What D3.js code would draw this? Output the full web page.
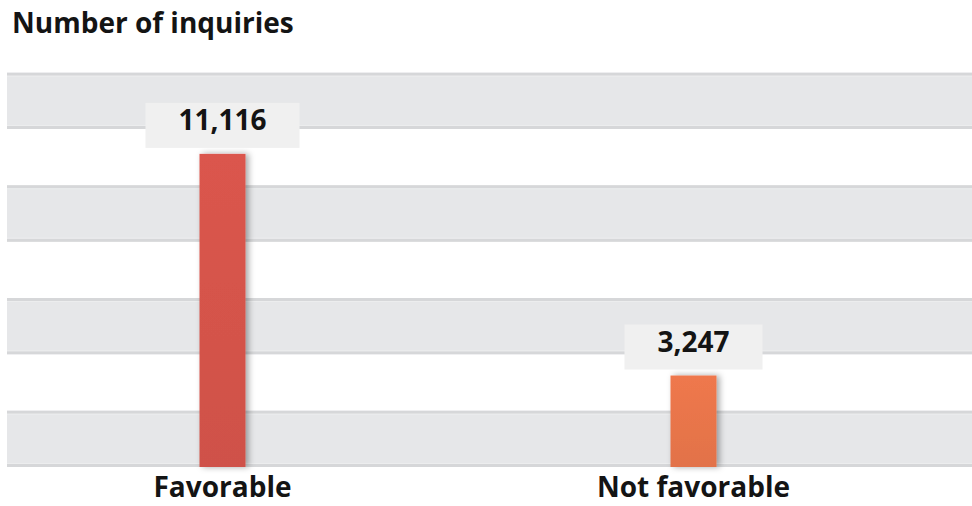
<!DOCTYPE html>
<html>
<head>
<meta charset="utf-8">
<script src="https://cdn.jsdelivr.net/npm/d3@7"></script>
<style>
  html, body { margin: 0; padding: 0; background: #ffffff; }
  svg { display: block; }
  text { font-family: "Open Sans", Lato, sans-serif; font-weight: 700; fill: #141414; }
</style>
</head>
<body>
<svg id="chart" width="972" height="506"></svg>
<script>
// Inquiries by outcome
const categories = ["Favorable", "Not favorable"];
const inquiries = [11116, 3247];
const valueLabels = ["11,116", "3,247"];
const barColors = ["#d3534a", "#e7744a"];
const gridStep = 2000;
const yMax = 14200;
const chartTitle = "Number of inquiries";

const width = 972, height = 506;
const plot = { left: 7, right: 972, top: 67, bottom: 467 };

const svg = d3.select("#chart");

const y = d3.scaleLinear().domain([0, yMax]).range([plot.bottom, plot.top]);
const x = d3.scaleBand().domain(categories).range([-13, 929]).paddingInner(0).paddingOuter(0);
const barWidth = 46;
const cx = d => x(d) + x.bandwidth() / 2;

// defs: bar gradients and soft shadow
const defs = svg.append("defs");
barColors.forEach((c, i) => {
  const g = defs.append("linearGradient")
    .attr("id", "barGrad" + i).attr("x1", 0).attr("y1", 0).attr("x2", 0).attr("y2", 1);
  g.append("stop").attr("offset", "0%").attr("stop-color", d3.color(c).brighter(0.1));
  g.append("stop").attr("offset", "100%").attr("stop-color", d3.color(c).darker(0.06));
});
const shadow = defs.append("filter").attr("id", "barShadow")
  .attr("x", "-50%").attr("y", "-10%").attr("width", "200%").attr("height", "130%");
shadow.append("feDropShadow")
  .attr("dx", 3).attr("dy", 0).attr("stdDeviation", 3)
  .attr("flood-color", "#000").attr("flood-opacity", 0.35);

// alternating horizontal bands from the grid ticks
const ticks = d3.range(0, yMax, gridStep);
const bands = ticks.map((t, i) => ({ lo: t, hi: Math.min(t + gridStep, yMax), i }));
const bandG = svg.append("g");
bands.filter(b => b.i % 2 === 0).forEach(b => {
  const y0 = y(b.hi), y1 = y(b.lo);
  bandG.append("rect")
    .attr("x", plot.left).attr("y", y0)
    .attr("width", plot.right - plot.left).attr("height", y1 - y0)
    .attr("fill", "#e6e7e9");
  [y0 + 1.5, y1 - 1.5].forEach(yy => {
    bandG.append("line")
      .attr("x1", plot.left).attr("x2", plot.right)
      .attr("y1", yy).attr("y2", yy)
      .attr("stroke", "#d6d7d9").attr("stroke-width", 3);
  });
  [y0 + 3.5, y1 - 3.5].forEach(yy => {
    bandG.append("line")
      .attr("x1", plot.left).attr("x2", plot.right)
      .attr("y1", yy).attr("y2", yy)
      .attr("stroke", "#ecedee").attr("stroke-width", 1);
  });
});

// bars
svg.append("g").selectAll("rect")
  .data(categories)
  .join("rect")
  .attr("x", d => cx(d) - barWidth / 2)
  .attr("y", (d, i) => y(inquiries[i]))
  .attr("width", barWidth)
  .attr("height", (d, i) => y(0) - y(inquiries[i]))
  .attr("fill", (d, i) => `url(#barGrad${i})`)
  .attr("filter", "url(#barShadow)");

// value labels in light boxes above the bars
const labelG = svg.append("g");
categories.forEach((d, i) => {
  const top = y(inquiries[i]);
  const g = labelG.append("g");
  const box = g.append("rect").attr("fill", "#f0f0f0");
  const t = g.append("text")
    .attr("x", cx(d)).attr("y", top - 24)
    .attr("text-anchor", "middle")
    .style("font-size", "28px")
    .text(valueLabels[i]);
  const w = t.node().getComputedTextLength() + 66;
  box.attr("x", cx(d) - w / 2).attr("y", top - 51).attr("width", w).attr("height", 45);
});

// category labels
svg.append("g").selectAll("text")
  .data(categories)
  .join("text")
  .attr("x", d => cx(d))
  .attr("y", 497)
  .attr("text-anchor", "middle")
  .style("font-size", "28px")
  .text(d => d);

// title
svg.append("text")
  .attr("x", 12).attr("y", 33)
  .style("font-size", "28px")
  .text(chartTitle);
</script>
</body>
</html>
